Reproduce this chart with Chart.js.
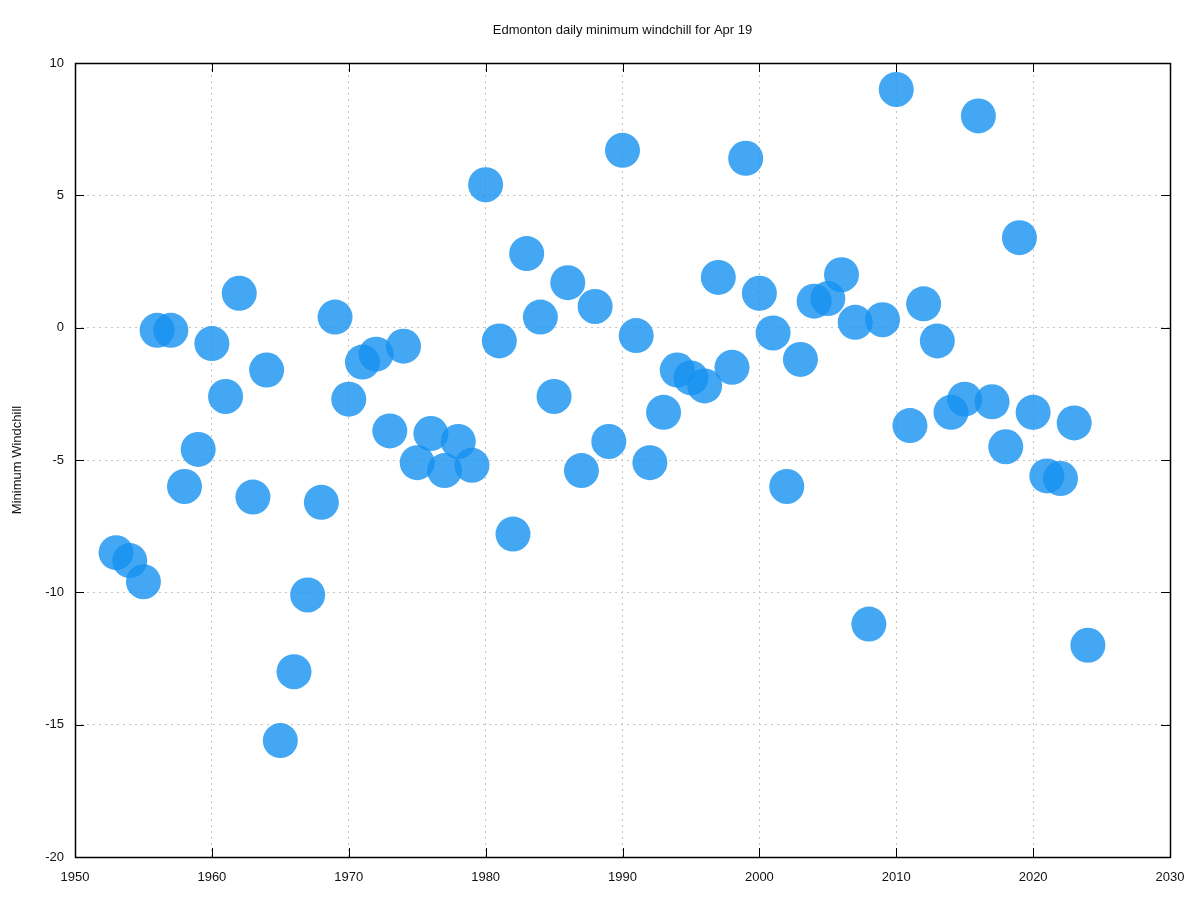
<!DOCTYPE html>
<html>
<head>
<meta charset="utf-8">
<script src="https://cdn.jsdelivr.net/npm/chart.js@4"></script>
<style>
  html, body { margin: 0; padding: 0; background: #fff; }
  #wrap { width: 1200px; height: 900px; }
</style>
</head>
<body>
<div id="wrap"><canvas id="c" width="1200" height="900"></canvas></div>
<script>
const chartTitle = "Edmonton daily minimum windchill for Apr 19";
const yAxisTitle = "Minimum Windchill";

const years = [
  1953, 1954, 1955, 1956, 1957, 1958, 1959, 1960, 1961, 1962,
  1963, 1964, 1965, 1966, 1967, 1968, 1969, 1970, 1971, 1972,
  1973, 1974, 1975, 1976, 1977, 1978, 1979, 1980, 1981, 1982,
  1983, 1984, 1985, 1986, 1987, 1988, 1989, 1990, 1991, 1992,
  1993, 1994, 1995, 1996, 1997, 1998, 1999, 2000, 2001, 2002,
  2003, 2004, 2005, 2006, 2007, 2008, 2009, 2010, 2011, 2012,
  2013, 2014, 2015, 2016, 2017, 2018, 2019, 2020, 2021, 2022,
  2023, 2024
];
const windchill = [
  -8.5, -8.8, -9.6, -0.1, -0.1, -6.0, -4.6, -0.6, -2.6, 1.3,
  -6.4, -1.6, -15.6, -13.0, -10.1, -6.6, 0.4, -2.7, -1.3, -1.0,
  -3.9, -0.7, -5.1, -4.0, -5.4, -4.3, -5.2, 5.4, -0.5, -7.8,
  2.8, 0.4, -2.6, 1.7, -5.4, 0.8, -4.3, 6.7, -0.3, -5.1,
  -3.2, -1.6, -1.9, -2.2, 1.9, -1.5, 6.4, 1.3, -0.2, -6.0,
  -1.2, 1.0, 1.1, 2.0, 0.2, -11.2, 0.3, 9.0, -3.7, 0.9,
  -0.5, -3.2, -2.7, 8.0, -2.8, -4.5, 3.4, -3.2, -5.6, -5.7,
  -3.6, -12.0
];

const xMin = 1950, xMax = 2030, xStep = 10;
const yMin = -20, yMax = 10, yStep = 5;

const points = years.map((yr, i) => ({ x: yr, y: windchill[i] }));

const FONT = "'Liberation Sans', Arial, Helvetica, sans-serif";
const TEXT = '#111';

const framePlugin = {
  id: 'frame',
  afterDatasetsDraw(chart) {
    const ctx = chart.ctx;
    const a = chart.chartArea;
    const xs = chart.scales.x, ys = chart.scales.y;
    const tl = 9;
    ctx.save();
    ctx.strokeStyle = '#000';
    ctx.lineWidth = 1;
    ctx.beginPath();
    xs.ticks.forEach(t => {
      const px = Math.round(xs.getPixelForValue(t.value)) + 0.5;
      ctx.moveTo(px, a.bottom); ctx.lineTo(px, a.bottom - tl);
      ctx.moveTo(px, a.top); ctx.lineTo(px, a.top + tl);
    });
    ys.ticks.forEach(t => {
      const py = Math.round(ys.getPixelForValue(t.value)) + 0.5;
      ctx.moveTo(a.left, py); ctx.lineTo(a.left + tl, py);
      ctx.moveTo(a.right, py); ctx.lineTo(a.right - tl, py);
    });
    ctx.stroke();
    ctx.lineWidth = 1.5;
    ctx.strokeRect(Math.round(a.left) + 0.5, Math.round(a.top) + 0.5,
                   Math.round(a.right - a.left), Math.round(a.bottom - a.top));
    ctx.restore();
  }
};

const gridColor = (ctx) => {
  const t = ctx.tick;
  if (!t) return 'rgba(0,0,0,0)';
  const sc = ctx.scale;
  if (t.value === sc.min || t.value === sc.max) return 'rgba(0,0,0,0)';
  return '#c8c3c3';
};

new Chart(document.getElementById('c'), {
  type: 'scatter',
  data: {
    datasets: [{
      data: points,
      backgroundColor: 'rgba(20,145,240,0.8)',
      borderWidth: 0,
      pointRadius: 17.5,
      pointHoverRadius: 17.5
    }]
  },
  options: {
    responsive: false,
    animation: false,
    events: [],
    layout: { padding: { left: 0, right: 30, top: 0, bottom: 0 } },
    plugins: {
      legend: { display: false },
      tooltip: { enabled: false },
      title: {
        display: true,
        text: chartTitle,
        fullSize: false,
        color: TEXT,
        font: { family: FONT, size: 13, weight: 'normal' },
        padding: { top: 23, bottom: 24.4 }
      }
    },
    scales: {
      x: {
        type: 'linear',
        min: xMin, max: xMax,
        afterFit: (s) => { s.height = 43; },
        ticks: {
          stepSize: xStep,
          color: TEXT,
          padding: 13,
          maxRotation: 0,
          font: { family: FONT, size: 13 },
          callback: (v) => String(v)
        },
        grid: { color: gridColor, drawTicks: false, lineWidth: 1 },
        border: { display: false, dash: [2, 4] }
      },
      y: {
        type: 'linear',
        min: yMin, max: yMax,
        afterFit: (s) => { s.width = 75; },
        ticks: {
          stepSize: yStep,
          color: TEXT,
          padding: 11,
          font: { family: FONT, size: 13 },
          callback: (v) => String(v)
        },
        grid: { color: gridColor, drawTicks: false, lineWidth: 1 },
        border: { display: false, dash: [2, 4] },
        title: {
          display: true,
          text: yAxisTitle,
          color: TEXT,
          font: { family: FONT, size: 13 },
          padding: { top: 10, bottom: 0 }
        }
      }
    }
  },
  plugins: [framePlugin]
});
</script>
</body>
</html>
